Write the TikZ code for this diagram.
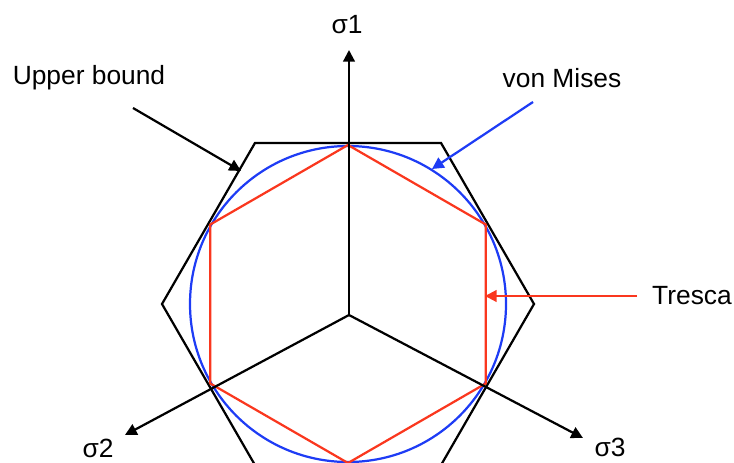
\documentclass[tikz,border=0pt]{standalone}
\usepackage{fontspec}
\setmainfont{Liberation Sans}
\usetikzlibrary{arrows.meta,calc}
\definecolor{misesblue}{RGB}{30,60,245}
\definecolor{trescared}{RGB}{250,55,30}
\begin{document}
\begin{tikzpicture}[x=0.03cm,y=0.03cm,line width=1.9pt,
    tip/.style={-{Triangle[length=10pt,width=10pt]}},
    lbl/.style={font=\fontsize{22.5}{27}\selectfont,inner sep=0pt}]
  \useasboundingbox (0,0) rectangle (734,462);
  \clip (0,0) rectangle (734,462);
  % centres
  \coordinate (C) at (348,158);
  \coordinate (O) at (349,147);
  % outer hexagon, circle, Tresca hexagon
  \draw[black] ($(C)+(0:186)$) \foreach \a in {60,120,...,300} { -- ($(C)+(\a:186)$) } -- cycle;
  \draw[misesblue] (C) circle (158);
  \draw[trescared] ($(C)+(90:159)$) \foreach \a in {150,210,...,390} { -- ($(C)+(\a:159)$) } -- cycle;
  % axes
  \coordinate (s1) at (349,412);
  \coordinate (s2) at (125,27);
  \coordinate (s3) at (583,24);
  \draw[tip] (O) -- (s1);
  \draw[tip] (O) -- (s2);
  \draw[tip] (O) -- (s3);
  \node[lbl] (sig1) at (347,437) {σ1};
  \node[lbl] (sig2) at (98,14) {σ2};
  \node[lbl] (sig3) at (610,15) {σ3};
  % labels
  \node[lbl] (upper) at (89,384) {Upper bound};
  \node[lbl] (mises) at (562,384) {von Mises};
  \node[lbl] (tresca) at (692,166) {Tresca};
  \coordinate (upperA) at (133,354);
  \coordinate (upperB) at (241,291);
  \coordinate (misesA) at (533,360);
  \coordinate (misesB) at (432,293);
  \coordinate (trescaA) at (637,166);
  \coordinate (trescaB) at (485,166);
  \draw[tip,black] (upperA) -- (upperB);
  \draw[tip,misesblue] (misesA) -- (misesB);
  \draw[tip,trescared] (trescaA) -- (trescaB);
\end{tikzpicture}
\end{document}
